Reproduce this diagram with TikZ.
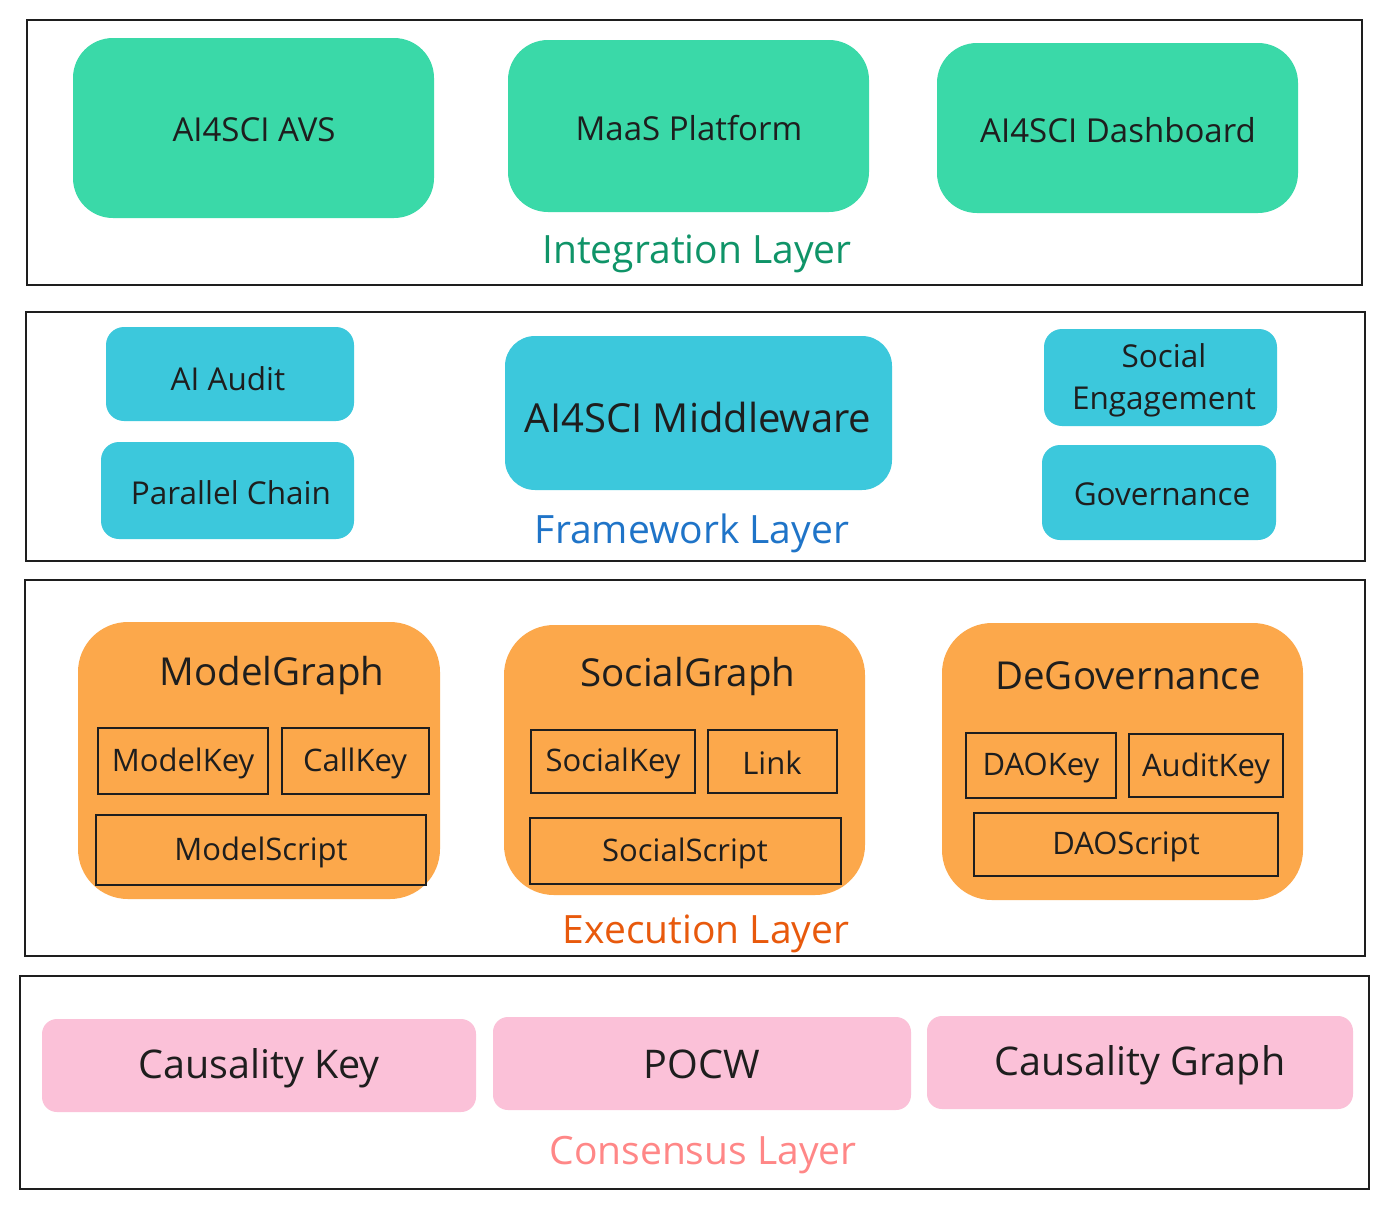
\documentclass[tikz,border=0pt]{standalone}
\usepackage{fontspec}
\setmainfont{Open Sans}
\definecolor{grn}{HTML}{3AD9A8}
\definecolor{cyn}{HTML}{3CC8DC}
\definecolor{org}{HTML}{FCA84B}
\definecolor{pnk}{HTML}{FBC1D8}
\definecolor{txt}{HTML}{1E1E1E}
\definecolor{lgrn}{HTML}{0F9468}
\definecolor{lblu}{HTML}{1F74C8}
\definecolor{lorg}{HTML}{E8590C}
\definecolor{lpnk}{HTML}{FF8787}
\begin{document}
\begin{tikzpicture}[x=1pt,y=-1pt,
  layer/.style={draw=txt,line width=1.6pt},
  gbox/.style={fill=grn,rounded corners=40pt,text=txt,font=\fontsize{33}{40}\selectfont},
  cbox/.style={fill=cyn,rounded corners=18pt,text=txt,font=\fontsize{31.5}{42}\selectfont,align=center},
  obox/.style={fill=org,rounded corners=50pt},
  otitle/.style={text=txt,font=\fontsize{38.5}{44}\selectfont},
  kbox/.style={draw=txt,line width=1.5pt,text=txt,font=\fontsize{31}{36}\selectfont},
  pbox/.style={fill=pnk,rounded corners=15pt,text=txt,font=\fontsize{39.5}{46}\selectfont},
  llabel/.style={font=\fontsize{39}{46}\selectfont},
  tshift/.style={yshift=-2pt}]
\useasboundingbox (0,0) rectangle (1389,1208);
\fill[white] (0,0) rectangle (1389,1208);
% layers
\draw[layer] (27,20) rectangle (1362,285);
\draw[layer] (26,312) rectangle (1365,561);
\draw[layer] (25,580) rectangle (1365,956);
\draw[layer] (20,976) rectangle (1369,1189);
% integration
\fill[gbox] (73,38) rectangle (434,218);
\node[gbox,fill=none,tshift] (avs) at (254,128) {AI4SCI AVS};
\fill[gbox] (508,40) rectangle (869,212);
\node[gbox,fill=none,tshift] (maas) at (689,126) {MaaS Platform};
\fill[gbox] (937,43) rectangle (1298,213);
\node[gbox,fill=none,tshift] (dash) at (1118,128) {AI4SCI Dashboard};
\node[llabel,text=lgrn,tshift] (intl) at (697,252) {Integration Layer};
% framework
\fill[cbox] (106,327) rectangle (354,421);
\node[cbox,fill=none,tshift] (audit) at (228,377) {AI Audit};
\fill[cbox] (101,442) rectangle (354,539);
\node[cbox,fill=none,tshift] (para) at (231,491) {Parallel Chain};
\fill[cyn,rounded corners=30pt] (505,336) rectangle (892,490);
\node[text=txt,font=\fontsize{40}{46}\selectfont,tshift] (mid) at (698,415) {AI4SCI Middleware};
\fill[cbox] (1044,329) rectangle (1277,426);
\node[cbox,fill=none,tshift] (soc) at (1164,378) {Social\\Engagement};
\fill[cbox] (1042,445) rectangle (1276,540);
\node[cbox,fill=none,tshift] (gov) at (1162,492) {Governance};
\node[llabel,text=lblu,tshift] (frl) at (692,531) {Framework Layer};
% execution
\fill[obox] (78,622) rectangle (440,899);
\node[otitle,tshift] (mg) at (272,673) {ModelGraph};
\draw[kbox] (98,728) rectangle (268,794); \node[kbox,draw=none,tshift] (mk) at (183,761) {ModelKey};
\draw[kbox] (282,728) rectangle (429,794); \node[kbox,draw=none,tshift] (ck) at (355,761) {CallKey};
\draw[kbox] (96,815) rectangle (426,885); \node[kbox,draw=none,tshift] (ms) at (261,850) {ModelScript};
\fill[obox] (504,625) rectangle (865,895);
\node[otitle,tshift] (sg) at (688,674) {SocialGraph};
\draw[kbox] (531,730) rectangle (695,793); \node[kbox,draw=none,tshift] (sk) at (613,761) {SocialKey};
\draw[kbox] (708,730) rectangle (837,793); \node[kbox,draw=none,tshift] (lk) at (772,761) {Link};
\draw[kbox] (530,818) rectangle (841,884); \node[kbox,draw=none,tshift] (ss) at (685,851) {SocialScript};
\fill[obox] (942,623) rectangle (1303,900);
\node[otitle,tshift] (dg) at (1128,674) {DeGovernance};
\draw[kbox] (966,733) rectangle (1116,798); \node[kbox,draw=none,tshift] (dk) at (1041,766) {DAOKey};
\draw[kbox] (1129,734) rectangle (1283,797); \node[kbox,draw=none,tshift] (ak) at (1206,766) {AuditKey};
\draw[kbox] (974,813) rectangle (1278,876); \node[kbox,draw=none,tshift] (ds) at (1126,845) {DAOScript};
\node[llabel,text=lorg,tshift] (exl) at (706,932) {Execution Layer};
% consensus
\fill[pbox] (42,1019) rectangle (476,1112);
\node[pbox,fill=none,tshift] (ckey) at (259,1066) {Causality Key};
\fill[pbox] (493,1017) rectangle (911,1110);
\node[pbox,fill=none,tshift] (pocw) at (702,1062) {POCW};
\fill[pbox] (927,1016) rectangle (1353,1109);
\node[pbox,fill=none,tshift] (cgr) at (1140,1063) {Causality Graph};
\node[llabel,text=lpnk,tshift] (csl) at (703,1153) {Consensus Layer};
\end{tikzpicture}
\end{document}
